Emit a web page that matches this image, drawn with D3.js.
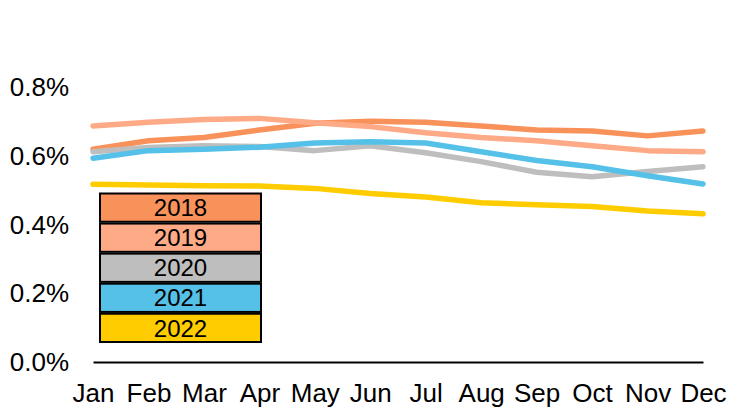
<!DOCTYPE html>
<html>
<head>
<meta charset="utf-8">
<script src="https://cdn.jsdelivr.net/npm/d3@7/dist/d3.min.js"></script>
<style>
  html, body { margin: 0; padding: 0; background: #fff; }
  svg { display: block; font-family: "Liberation Sans", Arial, sans-serif; }
</style>
</head>
<body>
<svg id="chart" width="731" height="408"></svg>
<script>
// Monthly rates (in %) by year
const months = ["Jan", "Feb", "Mar", "Apr", "May", "Jun", "Jul", "Aug", "Sep", "Oct", "Nov", "Dec"];
const years = ["2018", "2019", "2020", "2021", "2022"];
const values2018 = [0.620, 0.645, 0.654, 0.676, 0.696, 0.702, 0.699, 0.688, 0.676, 0.673, 0.659, 0.673];
const values2019 = [0.688, 0.699, 0.707, 0.710, 0.697, 0.686, 0.668, 0.654, 0.645, 0.630, 0.616, 0.613];
const values2020 = [0.613, 0.625, 0.630, 0.628, 0.616, 0.630, 0.610, 0.584, 0.553, 0.540, 0.555, 0.569];
const values2021 = [0.594, 0.616, 0.620, 0.626, 0.638, 0.642, 0.638, 0.613, 0.587, 0.569, 0.543, 0.519];
const values2022 = [0.518, 0.516, 0.514, 0.513, 0.506, 0.491, 0.481, 0.464, 0.458, 0.453, 0.440, 0.432];
const yTicks = [0, 0.2, 0.4, 0.6, 0.8];
const colors = ["#F9915A", "#FFAA86", "#BEBEBE", "#55C1E8", "#FFCC00"];

const seriesValues = [values2018, values2019, values2020, values2021, values2022];
const series = years.map((y, i) => ({ year: y, color: colors[i], values: seriesValues[i] }));

const svg = d3.select("#chart");

const x = d3.scalePoint().domain(months).range([93, 703]);
const y = d3.scaleLinear().domain([0, 0.8]).range([362, 87.5]);

// Y axis: labels only
const yAxis = svg.append("g")
  .attr("transform", "translate(93,0)")
  .call(d3.axisLeft(y).tickValues(yTicks).tickSize(0).tickPadding(24)
    .tickFormat(d => d.toFixed(1) + "%"));
yAxis.select(".domain").remove();
yAxis.selectAll("text").attr("font-size", 26).attr("fill", "#000")
  .attr("font-family", "Liberation Sans, Arial, sans-serif");

// X axis: baseline plus month labels
const xAxis = svg.append("g")
  .attr("transform", "translate(0,362)")
  .call(d3.axisBottom(x).tickSize(0).tickSizeOuter(0).tickPadding(22));
xAxis.select(".domain").attr("stroke", "#000").attr("stroke-width", 2);
xAxis.selectAll("text").attr("font-size", 26).attr("fill", "#000")
  .attr("font-family", "Liberation Sans, Arial, sans-serif");

// Lines
const line = d3.line()
  .x((d, i) => x(months[i]))
  .y(d => y(d));

svg.append("g").selectAll("path")
  .data(series)
  .join("path")
  .attr("d", d => line(d.values))
  .attr("fill", "none")
  .attr("stroke", d => d.color)
  .attr("stroke-width", 5.5)
  .attr("stroke-linejoin", "round")
  .attr("stroke-linecap", "round");

// Legend as stacked boxes
const legend = svg.append("g");
const lx = d3.scaleBand().domain(years).range([193.5, 342]).paddingInner(0.06);
const item = legend.selectAll("g").data(series).join("g");
item.append("rect")
  .attr("x", 100)
  .attr("width", 161)
  .attr("y", d => lx(d.year))
  .attr("height", lx.bandwidth())
  .attr("fill", d => d.color)
  .attr("stroke", "#000")
  .attr("stroke-width", 2);
item.append("text")
  .attr("x", 180.5)
  .attr("y", d => lx(d.year) + lx.bandwidth() / 2)
  .attr("dy", "0.36em")
  .attr("text-anchor", "middle")
  .attr("font-size", 24)
  .attr("fill", "#000")
  .text(d => d.year);
</script>
</body>
</html>
